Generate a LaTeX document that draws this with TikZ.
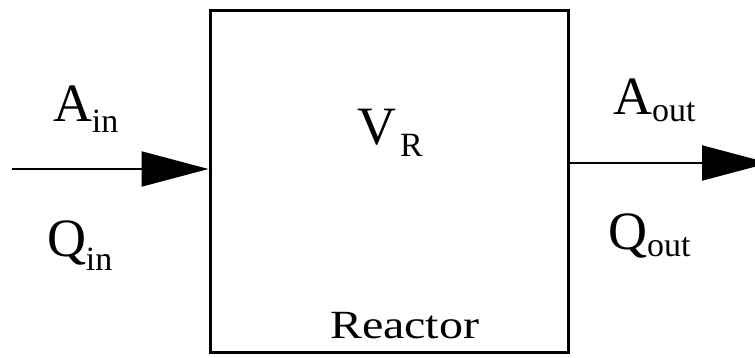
\documentclass[tikz,border=0pt]{standalone}
\usepackage{fontspec}
\setmainfont{Liberation Serif}
\usetikzlibrary{arrows.meta}
\newcommand{\bigf}{\fontsize{54}{54}\selectfont}
\newcommand{\subf}{\fontsize{34}{34}\selectfont}
\begin{document}
\begin{tikzpicture}[x=1pt,y=-1pt,
  lbl/.style={anchor=base west, inner sep=0pt, outer sep=0pt},
  flow/.style={line width=2pt, -{Triangle[length=67pt,width=35pt]}},
  boxstyle/.style={draw, line width=3pt, minimum width=358pt, minimum height=341pt, inner sep=0pt}]
\useasboundingbox (0,0) rectangle (755,358);
\clip (0,0) rectangle (755,358);
\fill[white] (0,0) rectangle (755,358);
\node[boxstyle] (reactor) at (389,181.5) {};
\coordinate (inflow) at (12,169);
\coordinate (outflow) at (769,163);
\draw[flow] (inflow) -- (reactor.west |- inflow);
\draw[flow] (reactor.east |- outflow) -- (outflow);
\node[lbl] (ain) at (53,122) {\bigf A\raisebox{-11pt}{\subf in}};
\node[lbl] (qin) at (47,256) {\bigf Q\raisebox{-14pt}{\subf in}};
\node[lbl] (aout) at (613,115) {\bigf A\raisebox{-7pt}{\subf out}};
\node[lbl] (qout) at (608,250) {\bigf Q\raisebox{-7pt}{\subf out}};
\node[lbl] (vr) at (357,145) {\bigf V\kern4pt\raisebox{-12pt}{\subf R}};
\node[lbl] (name) at (330,338) {\scalebox{1.2}[1]{\fontsize{40}{40}\selectfont Reactor}};
\end{tikzpicture}
\end{document}
